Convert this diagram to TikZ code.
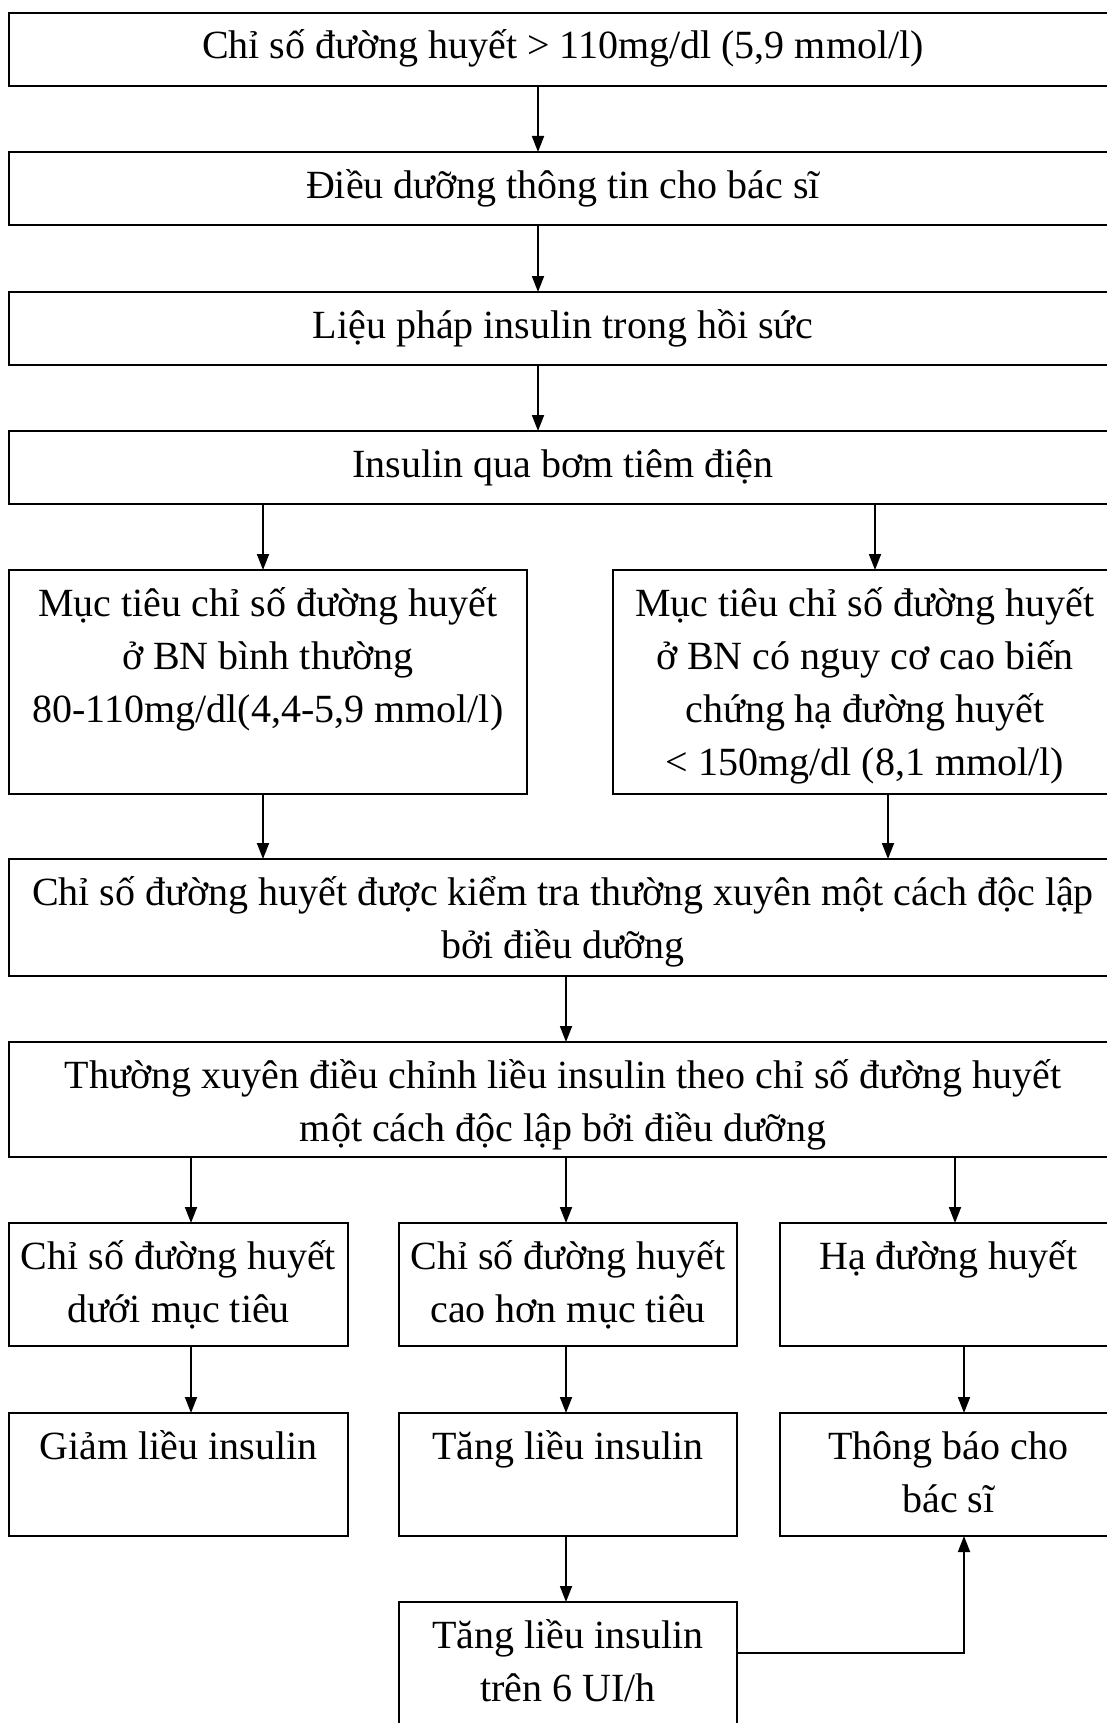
\documentclass[tikz,border=0pt]{standalone}
\usepackage{fontspec}
\setmainfont{Liberation Serif}
\usepackage{tikz}
\usetikzlibrary{arrows.meta,positioning}

\begin{document}
\begin{tikzpicture}[->,>={Triangle[length=16pt,width=12pt]},x=1pt,y=1pt,line width=1.8pt,node distance=66pt,
  nodes={rectangle,draw,inner sep=0pt,outer sep=0pt,align=flush center,text height=46pt,font=\fontsize{40}{53}\selectfont}]
 \useasboundingbox (0,0) rectangle (1107,-1723);
 \node[anchor=north west,text width=1108pt,text depth=27pt] (glu) at (9,-13) {Chỉ số đường huyết > 110mg/dl (5,9 mmol/l)};
 \node[text width=1108pt,text depth=27pt] (nurse) [below = of glu] {Điều dưỡng thông tin cho bác sĩ};
 \node[text width=1108pt,text depth=27pt] (therapy) [below = 67pt of nurse] {Liệu pháp insulin trong hồi sức};
 \node[text width=1108pt,text depth=27pt] (pump) [below = of therapy] {Insulin qua bơm tiêm điện};
 \node[text width=518pt,text depth=178pt] (goalN) [below = of pump.south west,anchor=north west] {Mục tiêu chỉ số đường huyết\\ở BN bình thường\\80-110mg/dl(4,4-5,9 mmol/l)};
 \node[text width=504pt,text depth=178pt] (goalR) [below = of pump.south east,anchor=north east] {Mục tiêu chỉ số đường huyết\\ở BN có nguy cơ cao biến\\chứng hạ đường huyết\\< 150mg/dl (8,1 mmol/l)};
 \node[text width=1108pt,text depth=71pt] (check) [below = 65pt of goalN.south west,anchor=north west] {Chỉ số đường huyết được kiểm tra thường xuyên một cách độc lập\\bởi điều dưỡng};
 \node[text width=1108pt,text depth=69pt] (adjust) [below = of check] {Thường xuyên điều chỉnh liều insulin theo chỉ số đường huyết\\một cách độc lập bởi điều dưỡng};
 \node[text width=339pt,text depth=77pt] (low) [below = of adjust.south west,anchor=north west] {Chỉ số đường huyết\\dưới mục tiêu};
 \node[text width=338pt,text depth=77pt] (high) [right = 51pt of low] {Chỉ số đường huyết\\cao hơn mục tiêu};
 \node[text width=337pt,text depth=77pt] (hypo) [right = 43pt of high] {Hạ đường huyết};
 \node[text width=339pt,text depth=77pt] (dec) [below = 67pt of low] {Giảm liều insulin};
 \node[text width=338pt,text depth=77pt] (inc) [below = 67pt of high] {Tăng liều insulin};
 \node[text width=337pt,text depth=77pt] (notify) [below = 67pt of hypo] {Thông báo cho\\bác sĩ};
 \node[text width=338pt,text depth=94pt] (incmore) [below = of inc] {Tăng liều insulin\\trên 6 UI/h};

  \path
  ([xshift=-25pt]glu.south) edge ([xshift=-25pt]nurse.north)
  ([xshift=-25pt]nurse.south) edge ([xshift=-25pt]therapy.north)
  ([xshift=-25pt]therapy.south) edge ([xshift=-25pt]pump.north)
  ([xshift=-300pt]pump.south) edge ([xshift=-5pt]goalN.north)
  ([xshift=312pt]pump.south) edge ([xshift=10pt]goalR.north)
  ([xshift=-5pt]goalN.south) edge ([xshift=-300pt]check.north)
  ([xshift=23pt]goalR.south) edge ([xshift=325pt]check.north)
  ([xshift=3pt]check.south) edge ([xshift=3pt]adjust.north)
  ([xshift=-372pt]adjust.south) edge ([xshift=12.5pt]low.north)
  ([xshift=3pt]adjust.south) edge ([xshift=-2pt]high.north)
  ([xshift=392pt]adjust.south) edge ([xshift=6.5pt]hypo.north)
  ([xshift=12.5pt]low.south) edge ([xshift=12.5pt]dec.north)
  ([xshift=-2pt]high.south) edge ([xshift=-2pt]inc.north)
  ([xshift=15.5pt]hypo.south) edge ([xshift=15.5pt]notify.north)
  ([xshift=-2pt]inc.south) edge ([xshift=-2pt]incmore.north)
  ;
  \draw ([yshift=-51pt]incmore.north east) -| ([xshift=15.5pt]notify.south);
\end{tikzpicture}
\end{document}
